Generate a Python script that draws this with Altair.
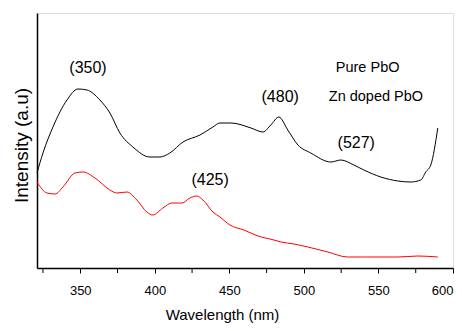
import altair as alt
import pandas as pd

# Pure PbO (black)
pure_nm = [321, 325, 331.7, 341.1, 348.5, 354.5, 363.2, 369.9, 376.6, 385.3, 396.7, 403.4,
           410.1, 418.9, 430.3, 439.0, 443.7, 451.1, 464.5, 472.5, 477.8, 483.2, 489.2,
           496.0, 504.6, 518.1, 524.8, 533.5, 540.2, 551.6, 563.0, 571.7, 578.4, 581.7,
           585.1, 589.8]
pure_int = [95, 115, 141, 168, 179, 178, 168, 155, 135, 121, 111, 111,
            115, 126, 133, 141, 145, 145, 140, 136, 143, 151, 138,
            123, 115, 106, 108, 103, 98, 91, 87, 86, 88, 96,
            103, 140]

# Zn doped PbO (red)
zn_nm = [321, 327.7, 333.1, 338.4, 346.5, 351.8, 359.9, 369.9, 374.6, 381.3, 388.0, 394.7,
         398.7, 405.4, 411.5, 418.2, 423.5, 428.2, 432.3, 439.0, 443.7, 450.4, 459.8,
         469.2, 479.9, 484.6, 493.3, 502.6, 516.0, 529.4, 540.2, 563.0, 576.4, 589.8]
zn_int = [86, 75, 74, 81, 95, 96, 90, 78, 75, 76, 68, 56,
          53, 60, 65, 65, 70, 72, 68, 56, 51, 43, 38,
          32, 28, 26, 24, 21, 16, 11, 11, 11, 12, 11]

# Annotations
peak_text = ["(350)", "(480)", "(527)", "(425)"]
peak_nm = [355.2, 484.1, 535.1, 437.1]
peak_int = [200, 171, 125, 88]

legend_text = ["Pure PbO", "Zn doped PbO"]
legend_nm = [521.4, 516.7]
legend_int = [200, 171]

major_ticks = [350, 400, 450, 500, 550, 600]
minor_ticks = [325, 375, 425, 475, 525, 575]

pure = pd.DataFrame({"nm": pure_nm, "I": pure_int})
zn = pd.DataFrame({"nm": zn_nm, "I": zn_int})
peaks = pd.DataFrame({"nm": peak_nm, "I": peak_int, "t": peak_text})
leg = pd.DataFrame({"nm": legend_nm, "I": legend_int, "t": legend_text})
minor = pd.DataFrame({"nm": minor_ticks})

FONT = "Liberation Sans"
H = 255

xscale = alt.Scale(domain=[321, 600], nice=False, zero=False)
yscale = alt.Scale(domain=[0, 255], nice=False, zero=True)

xenc = alt.X("nm:Q", scale=xscale, axis=alt.Axis(
    title="Wavelength (nm)", values=major_ticks, format="d",
    grid=False, domainColor="black", domainWidth=1.5, tickColor="black",
    tickSize=5, tickWidth=1, labelFont=FONT, labelFontSize=13,
    labelColor="black", labelPadding=11, labelFlush=True, labelOverlap=False,
    titleFont=FONT, titleFontSize=15, titleFontWeight="normal",
    titleColor="black", titleX=185, titleY=51, titleBaseline="alphabetic",
    titleAnchor="middle", titleAlign="center"))
yenc = alt.Y("I:Q", scale=yscale, axis=alt.Axis(
    title="Intensity (a.u)", labels=False, ticks=False, grid=False,
    domainColor="black", domainWidth=1.5,
    titleFont=FONT, titleFontSize=19, titleFontWeight="normal",
    titleColor="black", titleX=-16, titleY=132, titleAngle=270,
    titleBaseline="middle", titleAlign="center"))

l1 = alt.Chart(pure).mark_line(color="black", strokeWidth=1, interpolate="monotone").encode(x=xenc, y=yenc)
l2 = alt.Chart(zn).mark_line(color="#ff0000", strokeWidth=1, interpolate="monotone").encode(x="nm:Q", y="I:Q")
mt = alt.Chart(minor).mark_rule(color="black", strokeWidth=1).encode(
    x="nm:Q", y=alt.value(H), y2=alt.value(H + 5))
t1 = alt.Chart(peaks).mark_text(font=FONT, fontSize=16, color="black",
                                align="center", baseline="middle").encode(x="nm:Q", y="I:Q", text="t:N")
t2 = alt.Chart(leg).mark_text(font=FONT, fontSize=14.5, color="black",
                              align="left", baseline="middle").encode(x="nm:Q", y="I:Q", text="t:N")

chart = (l1 + l2 + mt + t1 + t2).properties(
    width=416, height=H,
    autosize=alt.AutoSizeParams(type="none"),
    padding={"left": 29, "top": 5, "right": 1, "bottom": 55},
).configure_view(stroke=None).configure(background="white")

chart.save("out.html", embed_options={"renderer": "svg", "actions": False})
